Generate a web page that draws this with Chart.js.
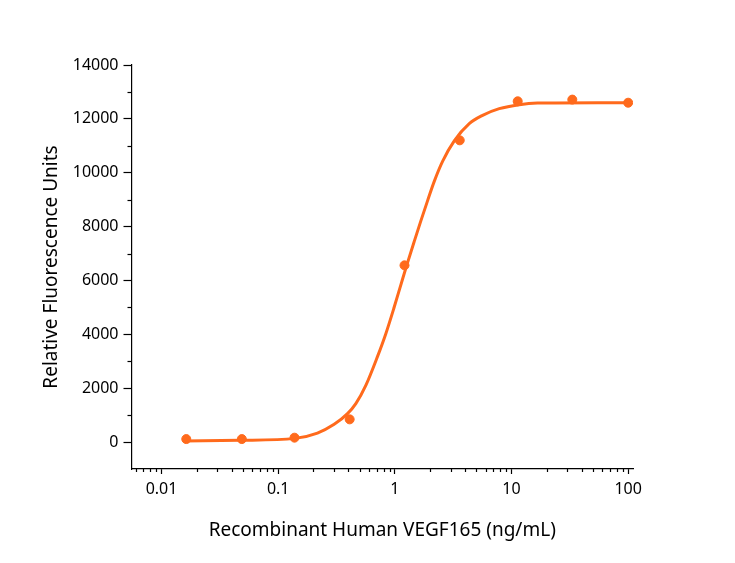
<!DOCTYPE html>
<html>
<head>
<meta charset="utf-8">
<script src="https://cdn.jsdelivr.net/npm/chart.js@4"></script>
<style>
  html, body { margin: 0; padding: 0; background: #fff; }
  #wrap { width: 735px; height: 563px; }
</style>
</head>
<body>
<div id="wrap"><canvas id="doseChart" width="735" height="563"></canvas></div>
<script>
// measured points (ng/mL vs RFU)
const concentrations = [0.0163, 0.0488, 0.138, 0.41, 1.21, 3.6, 11.3, 33.2, 100];
const rfu = [111, 111, 163, 843, 6561, 11203, 12652, 12715, 12600];

// fitted curve
const fitX = [0.0157, 0.0469, 0.139, 0.217, 0.302, 0.393, 0.463, 0.564, 0.711, 0.837, 0.988, 1.126, 1.26, 1.467, 1.671, 1.906, 2.177, 2.565, 3.23, 4.343, 5.65, 7.85, 11.65, 16.7, 54.7, 100];
const fitY = [37, 63, 137, 334, 657, 1054, 1426, 2105, 3182, 4025, 5013, 5837, 6542, 7452, 8213, 8956, 9680, 10422, 11183, 11822, 12131, 12379, 12528, 12587, 12602, 12602];

const xTickValues = [0.01, 0.1, 1, 10, 100];
const xTickLabels = ['0.01', '0.1', '1', '10', '100'];
const yTickLabels = ['0', '2000', '4000', '6000', '8000', '10000', '12000', '14000'];

const orange = '#ff6a1c';

const isMajorX = v => xTickValues.some(t => Math.abs(Math.log10(v) - Math.log10(t)) < 1e-6);
const isMajorY = v => yTickLabels.includes(String(v));

// short minor ticks, drawn from the scales' own tick pixels
const minorTicks = {
  id: 'minorTicks',
  afterDraw(chart) {
    const ctx = chart.ctx;
    const xs = chart.scales.x, ys = chart.scales.y;
    ctx.save();
    ctx.strokeStyle = '#000';
    ctx.lineWidth = 1.2;
    xs.ticks.forEach(t => {
      if (isMajorX(t.value)) return;
      const px = Math.round(xs.getPixelForValue(t.value)) + 0.5;
      ctx.beginPath(); ctx.moveTo(px, xs.top); ctx.lineTo(px, xs.top + 3); ctx.stroke();
    });
    ys.ticks.forEach(t => {
      if (isMajorY(t.value) || t.value < 0) return;
      const py = Math.round(ys.getPixelForValue(t.value)) + 0.5;
      ctx.beginPath(); ctx.moveTo(ys.right, py); ctx.lineTo(ys.right - 4, py); ctx.stroke();
    });
    ctx.restore();
  }
};

const font = 'Noto Sans';

new Chart(document.getElementById('doseChart'), {
  type: 'scatter',
  data: {
    datasets: [{
      label: 'points',
      data: concentrations.map((c, i) => ({ x: c, y: rfu[i] })),
      backgroundColor: orange,
      borderColor: orange,
      pointRadius: 4.5,
      showLine: false
    }, {
      label: 'fit',
      data: fitX.map((c, i) => ({ x: c, y: fitY[i] })),
      borderColor: orange,
      borderWidth: 3,
      pointRadius: 0,
      showLine: true,
      cubicInterpolationMode: 'monotone'
    }]
  },
  options: {
    responsive: false,
    animation: false,
    devicePixelRatio: 1,
    layout: { padding: { top: 65, right: 102, bottom: 0, left: 0 } },
    plugins: { legend: { display: false }, tooltip: { enabled: false } },
    scales: {
      x: {
        type: 'logarithmic',
        min: 0.00553,
        max: 110,
        afterBuildTicks(scale) {
          const ticks = [];
          for (let e = -3; e <= 2; e++) {
            for (let m = 1; m <= 9; m++) {
              const v = m * Math.pow(10, e);
              if (v >= scale.min && v <= scale.max) ticks.push({ value: v });
            }
          }
          scale.ticks = ticks;
        },
        afterFit(scale) { scale.height = 94; },
        border: { color: '#000', width: 1.2 },
        grid: {
          drawOnChartArea: false,
          tickLength: 5,
          tickWidth: 1.2,
          tickColor: c => (c.tick && isMajorX(c.tick.value)) ? '#000' : 'rgba(0,0,0,0)'
        },
        ticks: {
          autoSkip: false,
          maxRotation: 0,
          padding: 6,
          color: '#000',
          font: { family: font, size: 16 },
          callback: v => {
            const i = xTickValues.findIndex(t => Math.abs(Math.log10(v) - Math.log10(t)) < 1e-6);
            return i >= 0 ? xTickLabels[i] : '';
          }
        },
        title: {
          display: true,
          text: 'Recombinant Human VEGF165 (ng/mL)',
          color: '#000',
          font: { family: font, size: 19 },
          padding: { top: 0, bottom: 21 }
        }
      },
      y: {
        min: -1000,
        max: 14000,
        afterFit(scale) { scale.width = 131.5; },
        border: { color: '#000', width: 1.2 },
        grid: {
          drawOnChartArea: false,
          tickLength: 8,
          tickWidth: 1.2,
          tickColor: c => (c.tick && isMajorY(c.tick.value)) ? '#000' : 'rgba(0,0,0,0)'
        },
        ticks: {
          stepSize: 1000,
          autoSkip: false,
          padding: 5,
          color: '#000',
          font: { family: font, size: 16 },
          callback: v => isMajorY(v) ? String(v) : ''
        },
        title: {
          display: true,
          text: 'Relative Fluorescence Units',
          color: '#000',
          font: { family: font, size: 19 },
          padding: { top: 40, bottom: 0 }
        }
      }
    }
  },
  plugins: [minorTicks]
});
</script>
</body>
</html>
